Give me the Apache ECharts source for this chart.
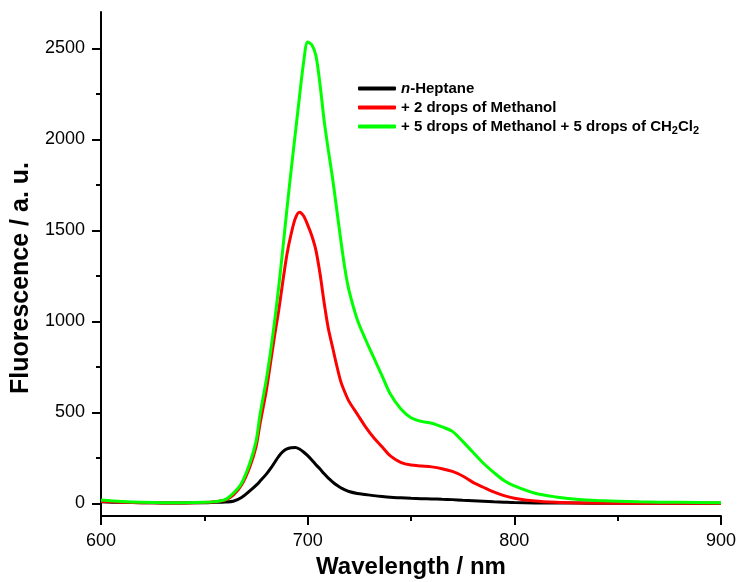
<!DOCTYPE html>
<html>
<head>
<meta charset="utf-8">
<script src="https://cdn.jsdelivr.net/npm/echarts@6/dist/echarts.min.js"></script>
<style>
html,body{margin:0;padding:0;background:#fff;}
#chart{width:738px;height:582px;}
</style>
</head>
<body>
<div id="chart"></div>
<script>
const wavelengths = [600,610,620,630,640,650,655,660,664,668,672,675,677,680,682,684,686,688,690,692,694,696,698,700,702,704,706,708,710,712,714,716,718,720,724,728,732,736,740,745,750,755,760,765,770,775,780,785,790,795,800,810,820,830,840,860,880,900];

const heptane = [8,5,3,2,2,3,5,7,11,32,68,98,122,160,190,224,258,284,299,305,306,298,282,262,238,212,188,162,138,118,100,85,74,65,54,48,42,37,33,30,27,25,24,22,20,17,14,11,8,6,4,2,1,1,0,0,0,0];

const methanol2 = [10,6,3,2,2,4,8,18,45,100,200,310,440,620,770,920,1060,1220,1370,1480,1565,1600,1580,1530,1470,1390,1260,1100,960,860,760,670,610,560,490,420,360,310,260,225,210,205,200,190,175,150,115,88,62,42,28,12,5,2,1,0,0,0];

const methanolCH2Cl2 = [18,10,5,3,3,5,9,20,55,110,220,340,490,680,830,1000,1190,1400,1620,1830,2030,2230,2420,2535,2520,2460,2300,2100,1940,1790,1620,1450,1290,1170,1010,900,800,700,600,520,470,450,440,420,395,340,280,220,170,125,95,55,35,22,15,8,5,3];

const seriesNames = ['n-Heptane', '+ 2 drops of Methanol', '+ 5 drops of Methanol + 5 drops of CH2Cl2'];
const legendLabels = ['{i|n}-Heptane', '+ 2 drops of Methanol', '+ 5 drops of Methanol + 5 drops of CH{sub|2}Cl{sub|2}'];
const seriesColors = ['#000000', '#ff0000', '#00ff00'];

const yMajorTicks = [0, 500, 1000, 1500, 2000, 2500];
const yMinorTicks = [250, 750, 1250, 1750, 2250];

const allValues = [heptane, methanol2, methanolCH2Cl2];

const chart = echarts.init(document.getElementById('chart'), null, {renderer: 'canvas'});
const font = '"Liberation Sans", Arial, sans-serif';

const series = allValues.map((vals, k) => ({
  name: seriesNames[k],
  type: 'line',
  data: wavelengths.map((w, i) => [w, vals[i]]),
  showSymbol: false,
  smooth: 0.3,
  lineStyle: {color: seriesColors[k], width: 3},
  itemStyle: {color: seriesColors[k]},
  z: 2 + k
}));

chart.setOption({
  animation: false,
  backgroundColor: '#fff',
  grid: {left: 101, right: 17, top: 12, bottom: 66, containLabel: false, outerBoundsMode: 'none'},
  legend: {
    orient: 'vertical',
    left: 353,
    top: 74,
    itemWidth: 38,
    itemHeight: 4,
    itemGap: 0,
    icon: 'roundRect',
    data: seriesNames,
    formatter: function (name) { return legendLabels[seriesNames.indexOf(name)]; },
    textStyle: {
      fontFamily: font, fontSize: 15, fontWeight: 'bold', color: '#000', lineHeight: 19,
      rich: {
        i: {fontFamily: font, fontSize: 15, fontWeight: 'bold', fontStyle: 'italic', color: '#000', lineHeight: 19},
        sub: {fontFamily: font, fontSize: 11, fontWeight: 'bold', color: '#000', lineHeight: 11, verticalAlign: 'bottom'}
      }
    }
  },
  xAxis: {
    type: 'value',
    min: 600, max: 900, interval: 100,
    name: 'Wavelength / nm',
    nameLocation: 'middle',
    nameGap: 39,
    nameTextStyle: {fontFamily: font, fontSize: 24, fontWeight: 'bold', color: '#000'},
    axisLine: {show: true, onZero: false, lineStyle: {color: '#000', width: 2}},
    axisTick: {show: true, inside: false, length: 9, lineStyle: {color: '#000', width: 2}},
    minorTick: {show: true, splitNumber: 2, length: 5, lineStyle: {color: '#000', width: 2}},
    axisLabel: {fontFamily: font, fontSize: 18, color: '#000', margin: 16, formatter: function (v) { return String(v); }},
    splitLine: {show: false},
    minorSplitLine: {show: false}
  },
  yAxis: [{
    type: 'value',
    position: 'left',
    min: -70, max: 2700,
    name: 'Fluorescence / a. u.',
    nameLocation: 'middle',
    nameGap: 63,
    nameRotate: 90,
    nameTextStyle: {fontFamily: font, fontSize: 25, fontWeight: 'bold', color: '#000', padding: [0, 28, 0, 0]},
    axisLine: {show: true, onZero: false, lineStyle: {color: '#000', width: 2}},
    axisTick: {show: true, inside: false, length: 9, customValues: yMajorTicks, lineStyle: {color: '#000', width: 2}},
    axisLabel: {fontFamily: font, fontSize: 18, color: '#000', margin: 16, customValues: yMajorTicks, formatter: function (v) { return String(v); }},
    splitLine: {show: false}
  }, {
    type: 'value',
    position: 'left',
    offset: 0,
    min: -70, max: 2700,
    axisLine: {show: false},
    axisTick: {show: true, inside: false, length: 5, customValues: yMinorTicks, lineStyle: {color: '#000', width: 2}},
    axisLabel: {show: false, customValues: yMinorTicks},
    splitLine: {show: false}
  }],
  series: series
});
</script>
</body>
</html>
